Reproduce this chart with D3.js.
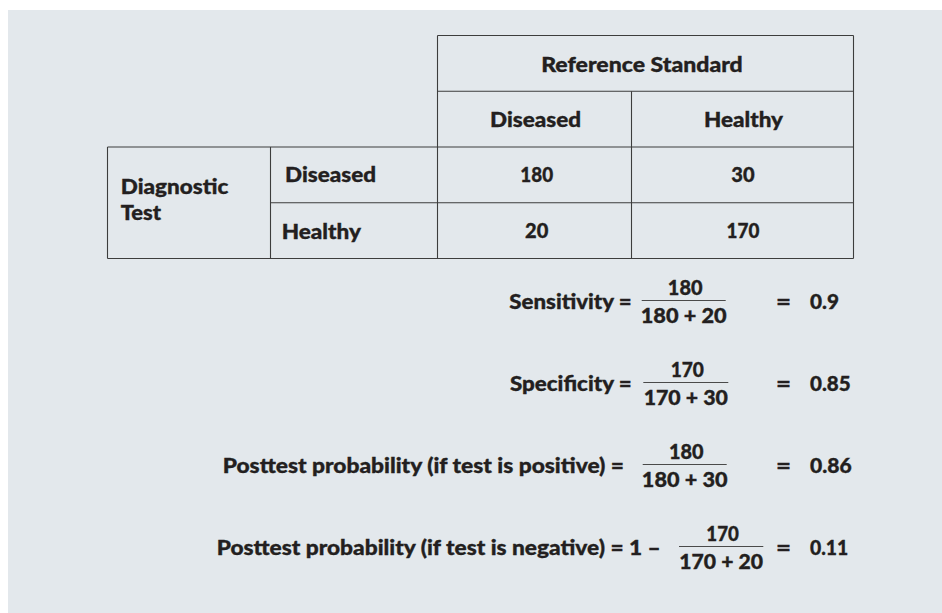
<!DOCTYPE html>
<html><head><meta charset="utf-8">
<script src="https://cdn.jsdelivr.net/npm/d3@7"></script>
<style>html,body{margin:0;padding:0;background:#fff;overflow:hidden}</style>
</head><body><div id="chart"></div>
<script>
// ---------- data ----------
const referenceTitle = "Reference Standard";
const referenceCategories = ["Diseased", "Healthy"];
const testTitle = ["Diagnostic", "Test"];
const testCategories = ["Diseased", "Healthy"];
const counts = [[180, 30], [20, 170]]; // rows = test result, cols = reference standard
const measureLabels = [
  "Sensitivity =",
  "Specificity =",
  "Posttest probability (if test is positive) =",
  "Posttest probability (if test is negative) = 1 \u2013"
];
const fractionNumerators = [180, 170, 180, 170];
const fractionDenominators = [[180, 20], [170, 30], [180, 30], [170, 20]];
const measureValues = ["0.9", "0.85", "0.86", "0.11"];

// ---------- layout ----------
const W = 942, H = 613;
const FONT = "Lato, 'Open Sans', 'DejaVu Sans', sans-serif";
const INK = "#231f20";
const RULE = "#3d3d3d";

const svg = d3.select("#chart").append("svg")
  .attr("width", W).attr("height", H)
  .style("display", "block");

svg.append("rect").attr("x", 8).attr("y", 10)
  .attr("width", W - 8).attr("height", H - 10)
  .attr("fill", "#e3e8ec");

// column edges and row edges through d3 scales
const xCol = d3.scaleLinear().domain([0, 1, 2, 3, 4]).range([107.5, 270.5, 437.5, 631.5, 853.5]);
const yRow = d3.scaleLinear().domain([0, 4]).range([35.5, 258.5]);
const rowH = yRow(1) - yRow(0);
const yFormula = d3.scaleLinear().domain([0, 3]).range([300, 546]);

function txt(g, s, x, y, anchor, w) {
  const t = g.append("text")
    .attr("x", x).attr("y", y)
    .attr("text-anchor", anchor)
    .attr("font-family", FONT)
    .attr("font-weight", 900)
    .attr("font-size", 21)
    .attr("fill", INK)
    .attr("stroke", INK)
    .attr("stroke-width", 0.35)
    .text(s);
  if (w) t.attr("textLength", w).attr("lengthAdjust", "spacingAndGlyphs");
  return t;
}

// ---------- table lines ----------
const lines = svg.append("g").attr("stroke", RULE).attr("stroke-width", 1.1).attr("fill", "none");
const seg = (x1, y1, x2, y2) => lines.append("line").attr("x1", x1).attr("y1", y1).attr("x2", x2).attr("y2", y2);
// upper header box
seg(xCol(2), yRow(0), xCol(4), yRow(0));
seg(xCol(2), yRow(1), xCol(4), yRow(1));
seg(xCol(2), yRow(0), xCol(2), yRow(4));
seg(xCol(4), yRow(0), xCol(4), yRow(4));
seg(xCol(3), yRow(1), xCol(3), yRow(4));
// body box
seg(xCol(0), yRow(2), xCol(4), yRow(2));
seg(xCol(1), yRow(3), xCol(4), yRow(3));
seg(xCol(0), yRow(4), xCol(4), yRow(4));
seg(xCol(0), yRow(2), xCol(0), yRow(4));
seg(xCol(1), yRow(2), xCol(1), yRow(4));

// ---------- table text ----------
const tg = svg.append("g");
const mid = (a, b) => (a + b) / 2;
const rowBase = i => yRow(i) + rowH / 2 + 7.5;

txt(tg, referenceTitle, mid(xCol(2), xCol(4)) - 3.5, rowBase(0) + 1.2, "middle", 201.6);

const headW = [91, 79];
referenceCategories.forEach((c, j) => {
  txt(tg, c, mid(xCol(2 + j), xCol(3 + j)) + 1, rowBase(1), "middle", headW[j]);
});

const rowLabelLeft = [285, 281.7];
const rowLabelW = [91, 79.3];
testCategories.forEach((c, i) => {
  txt(tg, c, rowLabelLeft[i], rowBase(2 + i) - 0.8 + i * 2, "start", rowLabelW[i]);
});

txt(tg, testTitle[0], 120.7, 194.3, "start", 107.6);
txt(tg, testTitle[1], 120.7, 220, "start", 40.3);

const numW = d => String(d).length === 3 ? 32.8 : 23.3;
counts.forEach((row, i) => {
  row.forEach((v, j) => {
    txt(tg, String(v), mid(xCol(2 + j), xCol(3 + j)) + (j === 0 ? 2.2 : 0.5), rowBase(2 + i), "middle", numW(v));
  });
});

// ---------- formulas ----------
const fg = svg.append("g");
const labelRight = [631.7, 631.7, 624, 660.7];
const labelW = [122.4, 121.7, 401.3, 444];
const fracL = [641.7, 643.3, 642.7, 679];
const fracR = [725.7, 728.3, 726.7, 763.3];
const numWs = [34.7, 33.3, 34.6, 32.6];
const denWs = [86, 84.3, 85.7, 83.7];
const valW = [29, 40.7, 41.7, 38.3];

measureLabels.forEach((lab, k) => {
  const y = yFormula(k);
  txt(fg, lab, labelRight[k], y + 9, "end", labelW[k]);
  fg.append("line")
    .attr("x1", fracL[k]).attr("x2", fracR[k])
    .attr("y1", y + 0.5).attr("y2", y + 0.5)
    .attr("stroke", "#4a4a4a").attr("stroke-width", 1.2);
  const c = mid(fracL[k], fracR[k]);
  txt(fg, String(fractionNumerators[k]), c + 1.5, y - 5.3, "middle", numWs[k]);
  txt(fg, fractionDenominators[k].join(" + "), c, y + 23, "middle", denWs[k]);
  txt(fg, "=", 776, y + 9, "start", 15);
  txt(fg, measureValues[k], 810, y + 9, "start", valW[k]);
});
</script>
</body></html>
